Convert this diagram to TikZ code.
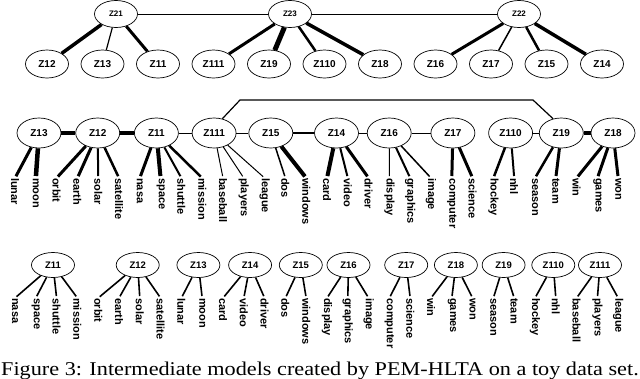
\documentclass[tikz,border=0pt]{standalone}
\usepackage{fontspec}
\setmainfont{Liberation Serif}
\setsansfont{Liberation Sans}
\usetikzlibrary{positioning, shapes.geometric}
\tikzset{
  latent/.style = {ellipse, draw, line width=0.7pt, inner sep=0pt,
                   minimum width=44pt, minimum height=30pt,
                   font=\sffamily\bfseries\fontsize{10}{10}\selectfont},
  toplat/.style = {latent, minimum width=43pt, minimum height=27pt,
                   font=\sffamily\bfseries\fontsize{8}{8}\selectfont},
  botlat/.style = {latent, minimum width=43pt, minimum height=25pt,
                   font=\sffamily\bfseries\fontsize{9.5}{9.5}\selectfont},
  word/.style   = {rotate=-90, anchor=west, inner sep=0pt,
                   font=\sffamily\bfseries\fontsize{11}{11}\selectfont},
  tie/.style    = {line width=#1},
  capt/.style   = {anchor=base west, inner sep=0pt, font=\fontsize{19.5}{20}\selectfont}
}

\begin{document}
\begin{tikzpicture}[x=1pt, y=-1pt]
  \path[use as bounding box, fill=white] (0,0) rectangle (640,378);

  % top model
  \node[toplat] (z21) at (116,14) {Z21};
  \node[toplat] (z23) at (290,14) {Z23};
  \node[toplat] (z22) at (519,14) {Z22};
  \node[latent, minimum width=43pt, minimum height=28pt] (t12) at (47,64) {Z12};
  \node[latent, minimum width=43pt, minimum height=28pt, right=11.8pt of t12] (t13) {Z13};
  \node[latent, minimum width=43pt, minimum height=28pt, right=11.8pt of t13] (t11) {Z11};
  \node[latent, minimum width=43pt, minimum height=28pt, right=11.8pt of t11] (t111) {Z111};
  \node[latent, minimum width=43pt, minimum height=28pt, right=11.8pt of t111] (t19) {Z19};
  \node[latent, minimum width=43pt, minimum height=28pt, right=11.8pt of t19] (t110) {Z110};
  \node[latent, minimum width=43pt, minimum height=28pt, right=11.8pt of t110] (t18) {Z18};
  \node[latent, minimum width=43pt, minimum height=28pt, right=11.8pt of t18] (t16) {Z16};
  \node[latent, minimum width=43pt, minimum height=28pt, right=11.8pt of t16] (t17) {Z17};
  \node[latent, minimum width=43pt, minimum height=28pt, right=11.8pt of t17] (t15) {Z15};
  \node[latent, minimum width=43pt, minimum height=28pt, right=11.8pt of t15] (t14) {Z14};

  \draw[tie=1pt] (z21) -- (z23);  \draw[tie=1pt] (z23) -- (z22);
  \draw[tie=3.5pt] (z21) -- (t12); \draw[tie=1.2pt] (z21) -- (t13);
  \draw[tie=3pt] (z21) -- (t11);
  \draw[tie=3pt] (z23) -- (t111); \draw[tie=5pt] (z23) -- (t19);
  \draw[tie=2.5pt] (z23) -- (t110); \draw[tie=3.5pt] (z23) -- (t18);
  \draw[tie=3pt] (z22) -- (t16); \draw[tie=1.5pt] (z22) -- (t17);
  \draw[tie=2.5pt] (z22) -- (t15); \draw[tie=3.5pt] (z22) -- (t14);

  % middle model
  \node[latent] (m13) at (39,133) {Z13};
  \node[latent, right=14pt of m13] (m12) {Z12};
  \node[latent, right=14pt of m12] (m11) {Z11};
  \node[latent, right=13pt of m11] (m111) {Z111};
  \node[latent, right=12pt of m111] (m15) {Z15};
  \node[latent, right=21pt of m15] (m14) {Z14};
  \node[latent, right=8pt of m14] (m16) {Z16};
  \node[latent, right=19pt of m16] (m17) {Z17};
  \node[latent, right=13pt of m17] (m110) {Z110};
  \node[latent, right=6pt of m110] (m19) {Z19};
  \node[latent, right=7pt of m19] (m18) {Z18};

  \draw[tie=4pt] (m13) -- (m12);   \draw[tie=3.5pt] (m12) -- (m11);
  \draw[tie=0.8pt] (m11) -- (m111); \draw[tie=0.8pt] (m111) -- (m15);
  \draw[tie=2pt] (m15) -- (m14);   \draw[tie=0.8pt] (m14) -- (m16);
  \draw[tie=0.8pt] (m16) -- (m17); \draw[tie=0.8pt] (m110) -- (m19);
  \draw[tie=3.5pt] (m19) -- (m18);
  \coordinate (brl) at (240,100);
  \coordinate (brr) at (533,100);
  \draw[tie=1.2pt] (m111.60) -- (brl) -- (brr) -- (m19.120);

  \foreach \w/\p/\t [count=\i from 0] in {lunar/m13/3, moon/m13/4.5,
      orbit/m12/3, earth/m12/3, solar/m12/2, satellite/m12/2.5,
      nasa/m11/3, space/m11/4, shuttle/m11/2, mission/m11/2.5,
      baseball/m111/1, players/m111/1, league/m111/1,
      dos/m15/1.5, windows/m15/4, card/m14/4, video/m14/2, driver/m14/3,
      display/m16/1, graphics/m16/2, image/m16/1.5,
      computer/m17/3, science/m17/3, hockey/m110/2.5, nhl/m110/2,
      season/m19/2.5, team/m19/3, win/m18/3, games/m18/3, won/m18/3} {
    \node[word] (mw\i) at ({15+20.8*\i},178) {\w};
    \draw[tie=\t pt, shorten >=2pt] (\p) -- (mw\i.west);
  }

  % bottom models
  \node[botlat] (b11) at (53,265) {Z11};
  \node[botlat, right=41pt of b11] (b12) {Z12};
  \node[botlat, right=17pt of b12] (b13) {Z13};
  \node[botlat, right=8pt of b13] (b14) {Z14};
  \node[botlat, right=7pt of b14] (b15) {Z15};
  \node[botlat, right=4pt of b15] (b16) {Z16};
  \node[botlat, right=14pt of b16] (b17) {Z17};
  \node[botlat, right=6pt of b17] (b18) {Z18};
  \node[botlat, right=4pt of b18] (b19) {Z19};
  \node[botlat, right=6pt of b19] (b110) {Z110};
  \node[botlat, right=3pt of b110] (b111) {Z111};

  \foreach \w/\p [count=\i from 0] in {nasa/b11, space/b11, shuttle/b11,
      mission/b11, orbit/b12, earth/b12, solar/b12, satellite/b12,
      lunar/b13, moon/b13, card/b14, video/b14, driver/b14,
      dos/b15, windows/b15, display/b16, graphics/b16, image/b16,
      computer/b17, science/b17, win/b18, games/b18, won/b18,
      season/b19, team/b19, hockey/b110, nhl/b110,
      baseball/b111, players/b111, league/b111} {
    \node[word] (bw\i) at ({15+20.8*\i},298) {\w};
    \draw[tie=1.6pt, shorten >=2pt] (\p) -- (bw\i.west);
  }

  \node[capt] (cap) at (1,375) {\scalebox{1.14}[1]{Figure 3: Intermediate models created by PEM-HLTA on a toy data set.}};
\end{tikzpicture}
\end{document}
